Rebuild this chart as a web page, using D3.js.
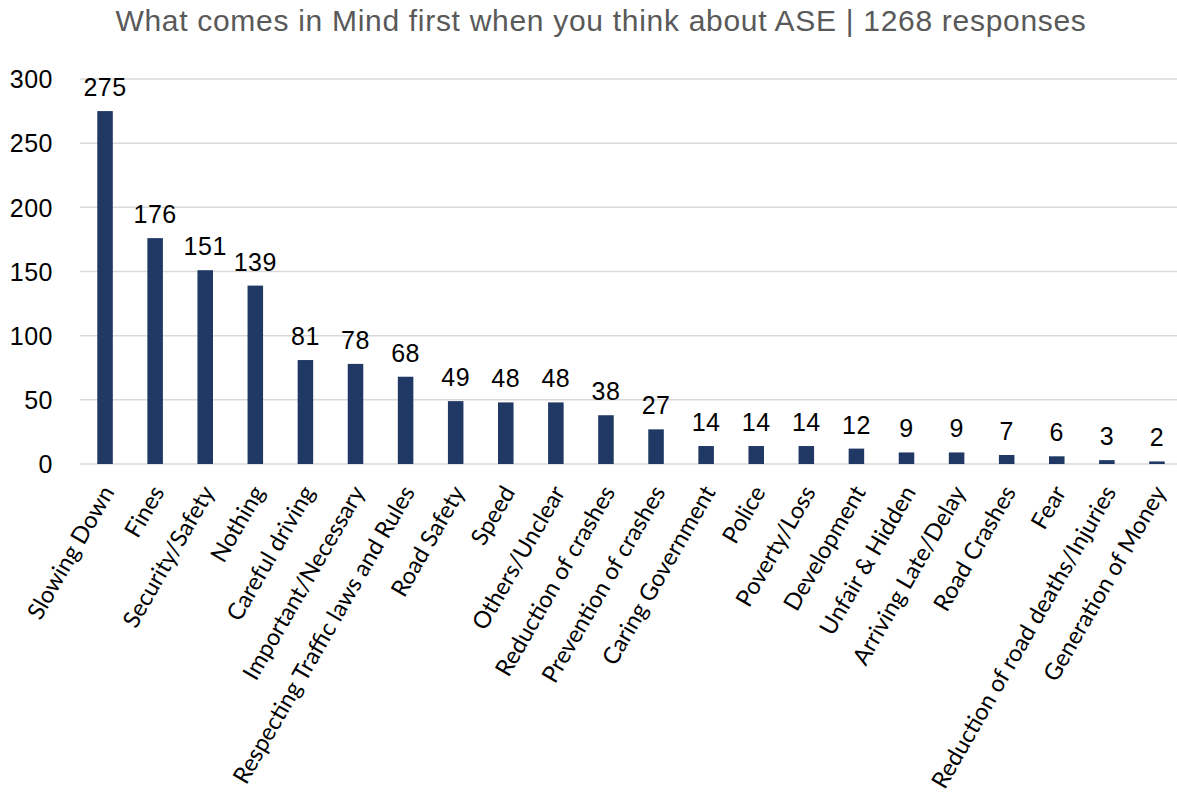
<!DOCTYPE html>
<html>
<head>
<meta charset="utf-8">
<script src="https://cdn.jsdelivr.net/npm/d3@7"></script>
<style>
  body { margin: 0; background: #fff; }
</style>
</head>
<body>
<svg id="chart" width="1177" height="802"></svg>
<script>
var categories = ["Slowing Down", "Fines", "Security/Safety", "Nothing", "Careful driving",
    "Important/Necessary", "Respecting Traffic laws and Rules", "Road Safety", "Speed",
    "Others/Unclear", "Reduction of crashes", "Prevention of crashes", "Caring Government",
    "Police", "Poverty/Loss", "Development", "Unfair & Hidden", "Arriving Late/Delay",
    "Road Crashes", "Fear", "Reduction of road deaths/Injuries", "Generation of Money"];
var responses = [275, 176, 151, 139, 81, 78, 68, 49, 48, 48, 38, 27, 14, 14, 14, 12, 9, 9, 7, 6, 3, 2];
var yTicks = [0, 50, 100, 150, 200, 250, 300];
var chartTitle = "What comes in Mind first when you think about ASE | 1268 responses";

var svg = d3.select("#chart");

var x = d3.scaleBand()
    .domain(categories)
    .range([80, 1182])
    .paddingInner(0.69)
    .paddingOuter(0.345);

var y = d3.scaleLinear()
    .domain([0, 300])
    .range([464, 79]);

// tittel
svg.append("text")
    .attr("x", 601)
    .attr("y", 31)
    .attr("text-anchor", "middle")
    .style("font-family", "Arial, 'Liberation Sans', sans-serif")
    .style("font-size", "30px")
    .style("letter-spacing", "0.7px")
    .style("fill", "#595959")
    .text(chartTitle);

// rutenett
svg.append("g")
    .selectAll("line")
    .data(yTicks)
    .enter().append("line")
    .attr("x1", 80)
    .attr("x2", 1177)
    .attr("y1", function(d) { return y(d); })
    .attr("y2", function(d) { return y(d); })
    .attr("stroke", "#d9d9d9")
    .attr("stroke-width", 1.5);

// y-akse
var yAxis = svg.append("g")
    .attr("transform", "translate(53,0)")
    .call(d3.axisLeft(y).tickValues(yTicks).tickSize(0).tickPadding(0));
yAxis.select(".domain").remove();
yAxis.selectAll("text")
    .attr("dy", "0.35em")
    .style("font-family", "Arial, 'Liberation Sans', sans-serif")
    .style("font-size", "25px")
    .style("letter-spacing", "0.5px")
    .style("fill", "#000");

// stolper
svg.append("g")
    .selectAll("rect")
    .data(responses)
    .enter().append("rect")
    .attr("x", function(d, i) { return x(categories[i]); })
    .attr("y", function(d) { return y(d); })
    .attr("width", x.bandwidth())
    .attr("height", function(d) { return y(0) - y(d); })
    .attr("fill", "#1f3864");

// verdier
svg.append("g")
    .selectAll("text")
    .data(responses)
    .enter().append("text")
    .attr("x", function(d, i) { return x(categories[i]) + x.bandwidth() / 2; })
    .attr("y", function(d) { return y(d) - 15; })
    .attr("text-anchor", "middle")
    .style("font-family", "Arial, 'Liberation Sans', sans-serif")
    .style("font-size", "25px")
    .style("letter-spacing", "0.5px")
    .style("fill", "#000")
    .text(function(d) { return d; });

// x-akse
var xAxis = svg.append("g")
    .attr("transform", "translate(0," + y(0) + ")")
    .call(d3.axisBottom(x).tickSize(0).tickPadding(0));
xAxis.select(".domain").remove();
xAxis.selectAll("text")
    .attr("text-anchor", "end")
    .attr("dy", "0")
    .attr("transform", "translate(10,28) rotate(-60)")
    .style("font-family", "Lato, 'Open Sans', sans-serif")
    .style("font-size", "23.5px")
    .style("fill", "#000");
</script>
</body>
</html>
